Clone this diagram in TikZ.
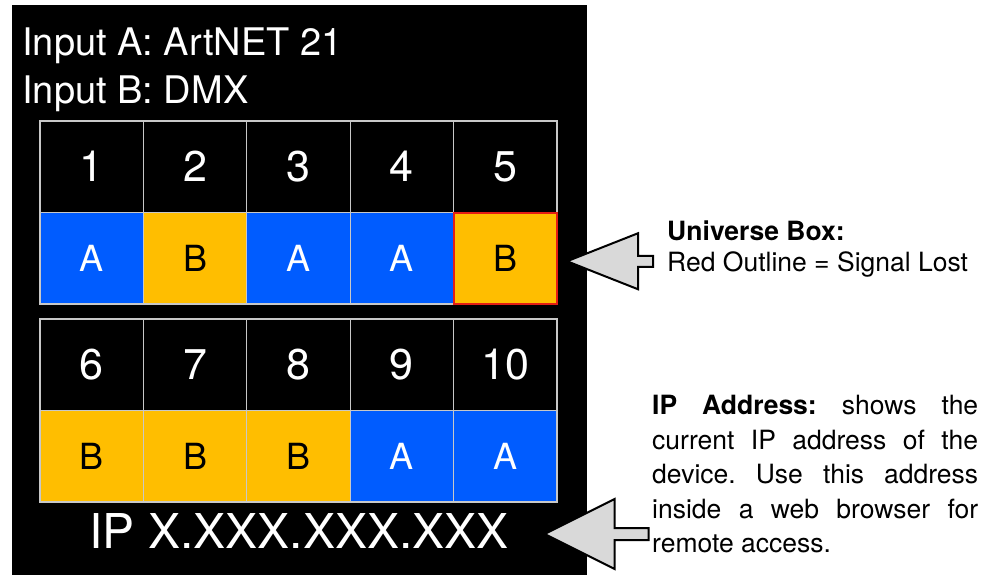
\documentclass[tikz,border=0pt]{standalone}
\usepackage{fontspec}
\setmainfont{TeX Gyre Heros}
\usepackage{tikz}
\usepackage{xcolor}
\usetikzlibrary{positioning}
\definecolor{univblue}{RGB}{0, 92, 255}
\definecolor{univamber}{RGB}{255, 190, 0}
\definecolor{gridgray}{RGB}{200, 200, 200}
\definecolor{arrowgray}{RGB}{217, 217, 217}
\definecolor{lostred}{RGB}{228, 30, 20}
\tikzstyle{screen} = [rectangle, fill=black, draw=none, inner sep=0pt, outer sep=0pt]
\tikzstyle{cell} = [rectangle, minimum width=103.4pt, minimum height=91.5pt, inner sep=0pt, outer sep=0pt, draw=gridgray, line width=1.2pt, anchor=north west]
\tikzstyle{numcell} = [cell, fill=black, text=white, font=\fontsize{43}{43}\selectfont]
\tikzstyle{srcA} = [cell, fill=univblue, text=white, font=\fontsize{36}{36}\selectfont]
\tikzstyle{srcB} = [cell, fill=univamber, text=black, font=\fontsize{36}{36}\selectfont]
\tikzstyle{heading} = [text=white, inner sep=0pt, anchor=base west, font=\fontsize{38}{38}\selectfont]
\tikzstyle{callout} = [draw=black, fill=arrowgray, line width=2pt, line join=miter]
\tikzstyle{note} = [inner sep=0pt, anchor=north west, font=\fontsize{26.5}{31}\selectfont]
\frenchspacing

\begin{document}
\begin{tikzpicture}[x=1pt, y=-1pt]
\useasboundingbox (0,0) rectangle (990,575);

% Display panel
\node (screen) [screen, anchor=north west, minimum width=575pt, minimum height=570pt] at (12,5) {};
\node (inputa) [heading] at (22,56) {Input A: ArtNET 21};
\node (inputb) [heading] at (22,104) {Input B: DMX};

% Universe boxes 1-5
\foreach \num/\inp [count=\i from 0] in {1/A,2/B,3/A,4/A,5/B} {
  \node (num\num) [numcell] at (40+\i*103.4, 121) {\num};
  \node (src\num) [src\inp] at (40+\i*103.4, 212.5) {\inp};
}
\draw [lostred, line width=2pt] (src5.north west) rectangle (src5.south east);

% Universe boxes 6-10
\foreach \num/\inp [count=\i from 0] in {6/B,7/B,8/B,9/A,10/A} {
  \node (num\num) [numcell] at (40+\i*103.4, 319) {\num};
  \node (src\num) [src\inp] at (40+\i*103.4, 410.5) {\inp};
}

\node (ip) [text=white, inner sep=0pt, font=\fontsize{48}{48}\selectfont] at (299,531) {IP X.XXX.XXX.XXX};

% Callouts
\coordinate (tipu) at ([xshift=10pt, yshift=-3pt]src5.east);
\draw [callout] (tipu) -- ++(71,-28) -- ++(0,22.5) -- ++(15,0) -- ++(0,11) -- ++(-15,0) -- ++(0,22.5) -- cycle;
\node (univnote) [note, align=left] at (667,221) {\textbf{Universe Box:}\\Red Outline = Signal Lost};

\coordinate (tipip) at ([xshift=36pt, yshift=-3pt]ip.east);
\draw [callout] (tipip) -- ++(70,-35) -- ++(0,29) -- ++(34,0) -- ++(0,12) -- ++(-34,0) -- ++(0,29) -- cycle;
\node (ipnote) [note, text width=326pt, align=justify, font=\fontsize{26.5}{34.5}\selectfont] at (652,395) {\hyphenpenalty=10000 \textbf{IP Address:} shows the\linebreak current IP address of the\linebreak device. Use this address\linebreak inside a web browser for\linebreak remote access.};

\end{tikzpicture}
\end{document}
